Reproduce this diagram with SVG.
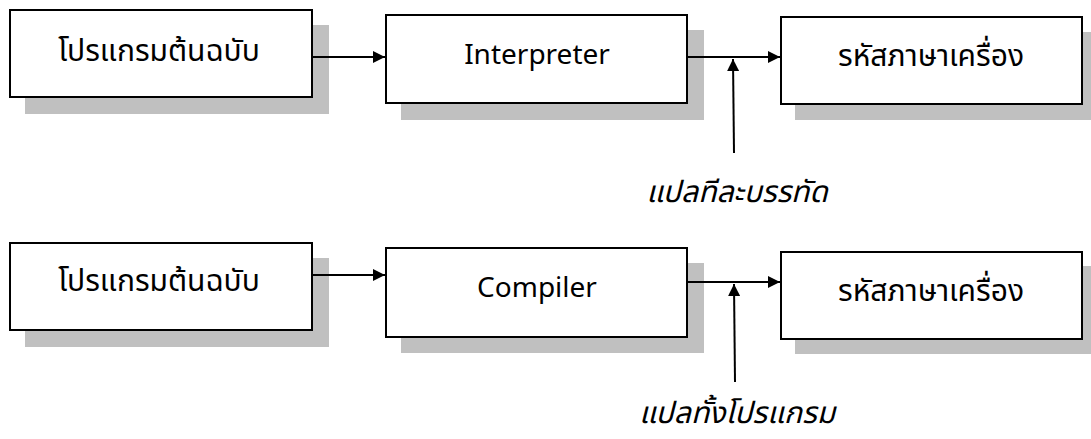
<svg xmlns="http://www.w3.org/2000/svg" width="1091" height="439" viewBox="0 0 1091 439">
<style>
.shadow{fill:#c0c0c0;stroke:none}
.box{fill:#fff;stroke:#000;stroke-width:2}
.t{font-family:"Noto Sans Thai","Noto Sans","DejaVu Sans",sans-serif;font-size:30px;fill:#000;text-anchor:middle}
.e{font-family:"Noto Sans Thai","Noto Sans","DejaVu Sans",sans-serif;font-size:28px;fill:#000;text-anchor:middle}
.lbl{font-family:"Noto Sans Thai","Noto Sans","DejaVu Sans",sans-serif;font-size:30px;font-style:italic;fill:#000;text-anchor:middle}
.c{stroke:#000;stroke-width:2;fill:none;marker-end:url(#ah)}
</style>
<defs>
<marker id="ah" viewBox="0 0 10 10" refX="10" refY="5" markerWidth="13" markerHeight="12" markerUnits="userSpaceOnUse" orient="auto">
<path d="M0,0 L10,5 L0,10 z" fill="#000"/>
</marker>
</defs>
<rect width="1091" height="439" fill="#fff"/>
<g id="src1"><rect class="shadow" x="25" y="25" width="304" height="89"/><rect class="box" x="10" y="10" width="302" height="87"/><text class="t" x="159" y="61">โปรแกรมต้นฉบับ</text></g>
<g id="interp"><rect class="shadow" x="401" y="30" width="303" height="90"/><rect class="box" x="386" y="15" width="301" height="88"/><text class="e" x="537" y="64">Interpreter</text></g>
<g id="out1"><rect class="shadow" x="795" y="32" width="296" height="88"/><rect class="box" x="781" y="17" width="301" height="87"/><text class="t" x="931" y="66">รหัสภาษาเครื่อง</text></g>
<g id="lbl1"><text class="lbl" x="737" y="202">แปลทีละบรรทัด</text></g>
<g id="src2"><rect class="shadow" x="25" y="258" width="304" height="89"/><rect class="box" x="10" y="243" width="302" height="87"/><text class="t" x="159" y="291">โปรแกรมต้นฉบับ</text></g>
<g id="comp"><rect class="shadow" x="401" y="263" width="303" height="90"/><rect class="box" x="386" y="248" width="301" height="89"/><text class="e" x="537" y="297">Compiler</text></g>
<g id="out2"><rect class="shadow" x="795" y="266" width="296" height="88"/><rect class="box" x="781" y="252" width="301" height="87"/><text class="t" x="931" y="301">รหัสภาษาเครื่อง</text></g>
<g id="lbl2"><text class="lbl" x="737" y="423">แปลทั้งโปรแกรม</text></g>
<g id="connectors">
<line class="c" x1="312" y1="57" x2="385" y2="57"/>
<line class="c" x1="687" y1="57" x2="780" y2="57"/>
<line class="c" x1="734" y1="153" x2="733" y2="59"/>
<line class="c" x1="312" y1="275" x2="385" y2="275"/>
<line class="c" x1="687" y1="282" x2="780" y2="282"/>
<line class="c" x1="735" y1="382" x2="734" y2="284"/>
</g>
</svg>
